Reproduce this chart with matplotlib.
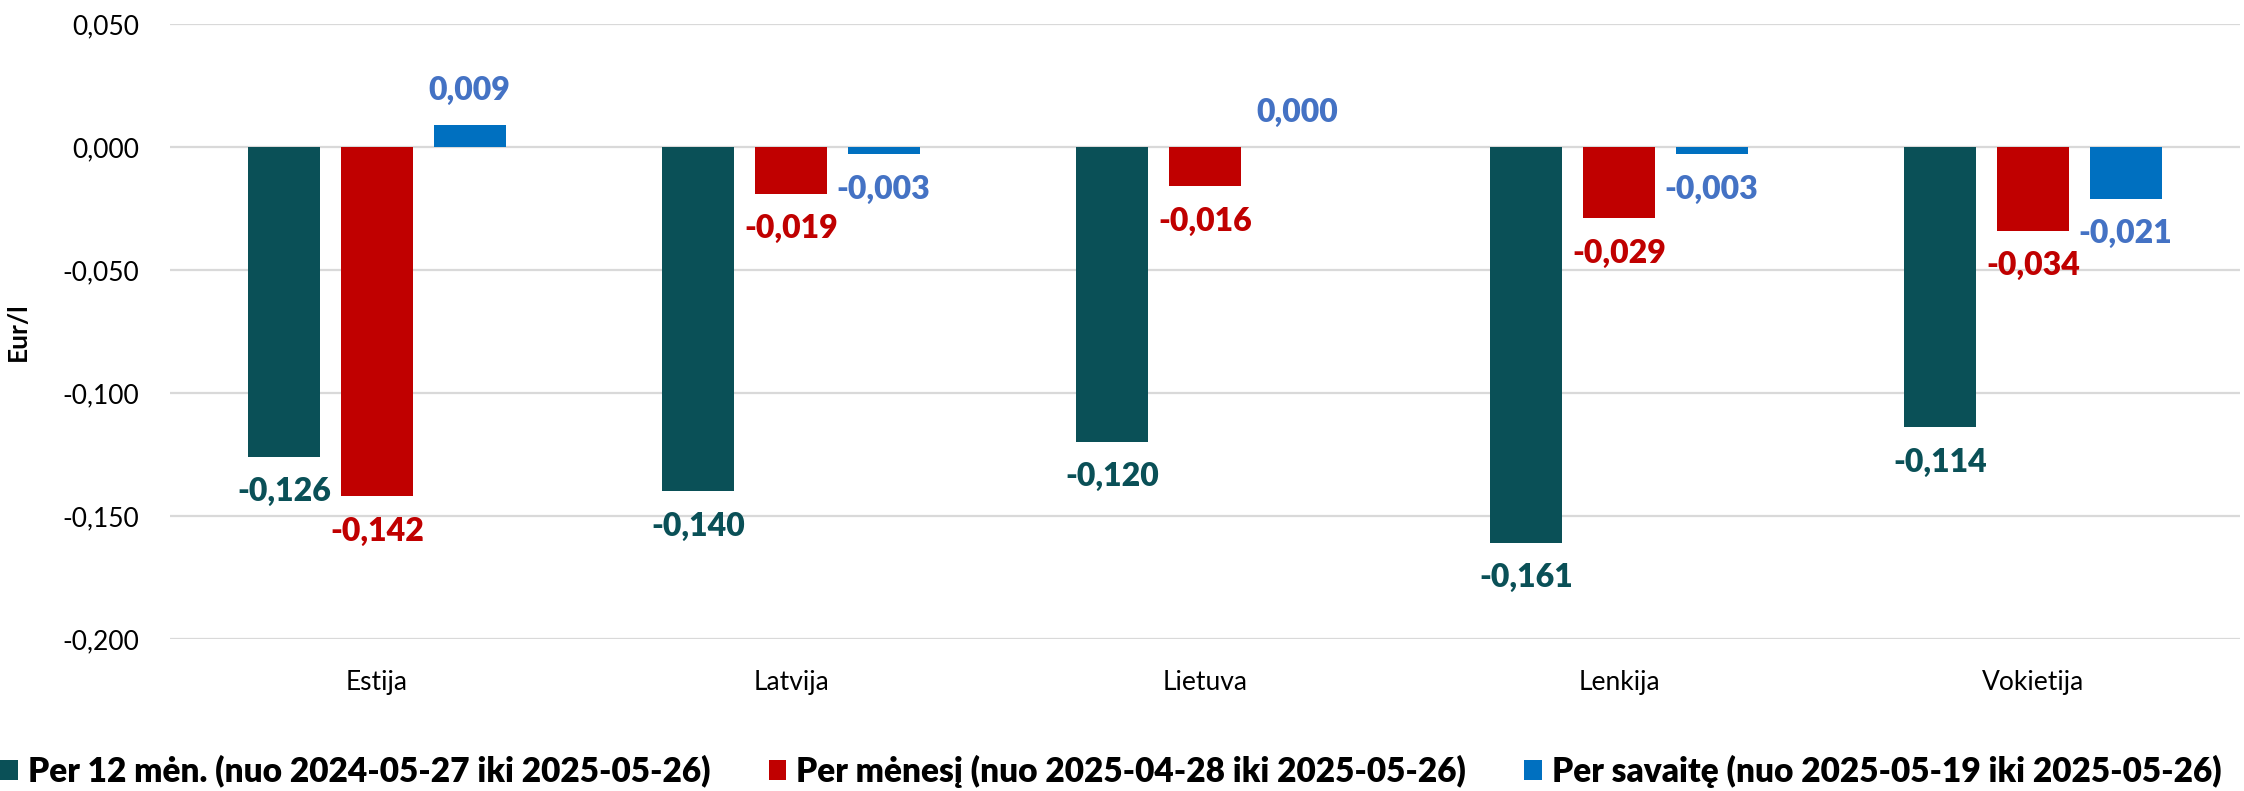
import matplotlib
matplotlib.use("Agg")
import matplotlib.pyplot as plt
from matplotlib.patches import Patch
import numpy as np

categories = ["Estija", "Latvija", "Lietuva", "Lenkija", "Vokietija"]
series_names = [
    "Per 12 mėn. (nuo 2024-05-27 iki 2025-05-26)",
    "Per mėnesį (nuo 2025-04-28 iki 2025-05-26)",
    "Per savaitę (nuo 2025-05-19 iki 2025-05-26)",
]
year_vals = [-0.126, -0.140, -0.120, -0.161, -0.114]
month_vals = [-0.142, -0.019, -0.016, -0.029, -0.034]
week_vals = [0.009, -0.003, 0.000, -0.003, -0.021]
yticks = [0.05, 0.0, -0.05, -0.10, -0.15, -0.20]

bar_colors = ["#0A5057", "#C00000", "#0070C0"]
label_colors = ["#0A5057", "#C00000", "#4472C4"]

plt.rcParams['font.family'] = ['Lato', 'DejaVu Sans']

fig = plt.figure(figsize=(22.44, 7.91), dpi=100)
ax = fig.add_axes([170/2244, 152/791, 2070/2244, 615/791])

x = np.arange(len(categories))
offsets = [-0.224, 0.0, 0.224]
width = 0.174
all_series = [year_vals, month_vals, week_vals]

for vals, off, col, lcol in zip(all_series, offsets, bar_colors, label_colors):
    ax.bar(x + off, vals, width, color=col, zorder=3)
    for xi, v in zip(x + off, vals):
        dy = 25 if v >= 0 else -25
        txt = f"{v:.3f}".replace(".", ",")
        ax.annotate(txt, (xi, v), xytext=(0, dy), textcoords="offset points",
                    ha="center", va="center", color=lcol, fontsize=23,
                    fontweight=800)

ax.set_xlim(-0.5, len(categories) - 0.5)
ax.set_ylim(-0.2, 0.05)
ax.set_yticks(yticks)
ax.set_yticklabels([f"{t:.3f}".replace(".", ",") for t in yticks], fontsize=19)
ax.set_xticks(x)
ax.set_xticklabels(categories, fontsize=19)
ax.tick_params(axis='y', length=0, pad=22)
ax.tick_params(axis='x', length=0, pad=22)
ax.grid(axis='y', color="#D9D9D9", linewidth=1.6, zorder=0)
for s in ax.spines.values():
    s.set_visible(False)

ax.set_ylabel("Eur/l", fontsize=19, fontweight="bold")
ax.yaxis.set_label_coords(-0.0676, 0.5)

handles = [Patch(facecolor=c) for c in bar_colors]
fig.legend(handles, series_names, loc="center left", bbox_to_anchor=(0.0, 20/791),
           ncol=3, frameon=False, borderpad=0, borderaxespad=0,
           handlelength=0.53, handleheight=0.53, handletextpad=0.3,
           columnspacing=1.75, prop={'weight': 800, 'size': 24})

fig.savefig("out.png", dpi=100)
